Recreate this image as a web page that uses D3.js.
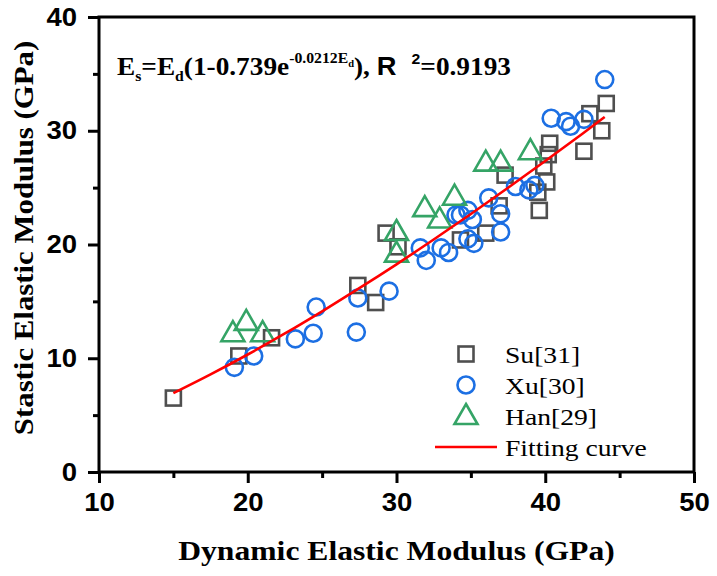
<!DOCTYPE html>
<html><head><meta charset="utf-8">
<script src="https://cdn.jsdelivr.net/npm/d3@7"></script>
<style>body{margin:0;background:#fff;} svg{display:block;}</style>
</head><body>
<svg id="chart" width="717" height="576"></svg>
<script>
const suX = [15.0,19.4,21.6,27.4,28.6,29.3,30.1,34.3,36.0,36.9,37.3,39.6,39.5,39.9,40.1,40.2,40.3,42.6,43.0,43.8,44.1];
const suY = [6.5,10.2,11.8,16.4,14.9,21.0,19.8,20.4,21.0,23.4,26.1,23.0,24.6,26.9,25.5,27.9,28.9,28.2,31.5,30.0,32.4];
const xuX = [19.1,20.4,23.2,24.4,24.6,27.3,27.4,29.5,31.6,32.0,33.0,33.5,34.0,34.3,34.8,35.1,34.8,35.2,36.2,37.0,37.0,38.0,38.9,39.3,40.4,41.4,41.7,42.6,44.0];
const xuY = [9.2,10.2,11.7,12.2,14.5,12.3,15.3,15.9,19.7,18.6,19.7,19.3,22.6,22.6,23.0,22.2,20.5,20.1,24.1,22.7,21.1,25.1,24.8,25.2,31.1,30.8,30.4,31.0,34.5];
const hanX = [19.0,19.9,21.0,30.0,30.0,31.9,32.9,33.9,36.0,37.0,39.0];
const hanY = [12.2,13.2,12.2,21.1,19.2,23.2,22.2,24.2,27.2,27.2,28.2];
const fitX = [15,17.5,20,22.5,25,27.5,30,32.5,35,37.5,40,42.5,44];
const fitY = [6.93,8.58,10.33,12.18,14.13,16.16,18.26,20.44,22.68,24.99,27.34,29.74,31.21];
const xTicks = [10,20,30,40,50];
const yTicks = [0,10,20,30,40];
const legendLabels = ["Su[31]","Xu[30]","Han[29]","Fitting curve"];

const svg = d3.select("#chart");
const m = {l:99, t:17, r:23, b:104};
const W = 717, H = 576;
const x = d3.scaleLinear().domain([10,50]).range([m.l, W-m.r]);
const y = d3.scaleLinear().domain([0,40]).range([H-m.b, m.t]);

const tickFont = "'Liberation Sans', Arial, sans-serif";
const serif = "'Liberation Serif', 'Times New Roman', serif";
const K = 1.13;

function stretchAt(sel, k){
  sel.each(function(){
    const e = d3.select(this);
    const ax = +(e.attr("x")||0), ay = +(e.attr("y")||0);
    e.attr("transform",`translate(${ax},${ay}) scale(${k},1) translate(${-ax},${-ay})`);
  });
}

const xMinor = d3.range(15,50,10);
const yMinor = d3.range(5,40,10);

const gx = svg.append("g").attr("transform",`translate(0,${H-m.b})`)
  .call(d3.axisBottom(x).tickValues(xTicks).tickSize(11).tickPadding(10).tickFormat(d3.format("d")));
const gxm = svg.append("g").attr("transform",`translate(0,${H-m.b})`)
  .call(d3.axisBottom(x).tickValues(xMinor).tickSize(6).tickFormat(""));
const gy = svg.append("g").attr("transform",`translate(${m.l},0)`)
  .call(d3.axisLeft(y).tickValues(yTicks).tickSize(11).tickPadding(11).tickFormat(d3.format("d")));
const gym = svg.append("g").attr("transform",`translate(${m.l},0)`)
  .call(d3.axisLeft(y).tickValues(yMinor).tickSize(6).tickFormat(""));
[gx,gxm,gy,gym].forEach(g=>{
  g.select(".domain").remove();
  g.selectAll(".tick line").attr("stroke","#000").attr("stroke-width",3);
  g.selectAll(".tick text").attr("fill","#000").style("font-family",tickFont).style("font-weight","bold").style("font-size","25px");
});
stretchAt(gx.selectAll(".tick text"), 1.1);
stretchAt(gy.selectAll(".tick text"), 1.1);

svg.append("rect").attr("x",m.l).attr("y",m.t).attr("width",W-m.r-m.l).attr("height",H-m.b-m.t)
  .attr("fill","none").attr("stroke","#000").attr("stroke-width",3);

const plot = svg.append("g");
const sqColor = "#4f4f4f", ciColor = "#1c6fe3", trColor = "#35a466";
const sqSize = 15, cr = 8.5;
const triPath = (cx,cy)=>{ const w=11.5, h=20; return `M${cx},${cy-h*0.6}L${cx+w},${cy+h*0.4}L${cx-w},${cy+h*0.4}Z`; };

plot.selectAll(".su").data(suX.map((d,i)=>[d,suY[i]])).join("rect")
  .attr("x",d=>x(d[0])-sqSize/2).attr("y",d=>y(d[1])-sqSize/2).attr("width",sqSize).attr("height",sqSize)
  .attr("fill","none").attr("stroke",sqColor).attr("stroke-width",2.6);
plot.selectAll(".xu").data(xuX.map((d,i)=>[d,xuY[i]])).join("circle")
  .attr("cx",d=>x(d[0])).attr("cy",d=>y(d[1])).attr("r",cr)
  .attr("fill","none").attr("stroke",ciColor).attr("stroke-width",2.6);
plot.selectAll(".han").data(hanX.map((d,i)=>[d,hanY[i]])).join("path")
  .attr("d",d=>triPath(x(d[0]),y(d[1])))
  .attr("fill","none").attr("stroke",trColor).attr("stroke-width",2.6);
plot.append("path").datum(fitX.map((d,i)=>[d,fitY[i]]))
  .attr("d",d3.line().x(d=>x(d[0])).y(d=>y(d[1])).curve(d3.curveMonotoneX))
  .attr("fill","none").attr("stroke","#ff0000").attr("stroke-width",2.6);

// legend
const lx = 466, ly0 = 354, ldy = 31;
const lg = svg.append("g");
lg.append("rect").attr("x",lx-sqSize/2).attr("y",ly0-sqSize/2).attr("width",sqSize).attr("height",sqSize)
  .attr("fill","none").attr("stroke",sqColor).attr("stroke-width",2.6);
lg.append("circle").attr("cx",lx).attr("cy",ly0+ldy).attr("r",cr).attr("fill","none").attr("stroke",ciColor).attr("stroke-width",2.6);
lg.append("path").attr("d",triPath(lx,ly0+2*ldy)).attr("fill","none").attr("stroke",trColor).attr("stroke-width",2.6);
lg.append("line").attr("x1",435).attr("x2",497).attr("y1",ly0+3*ldy).attr("y2",ly0+3*ldy).attr("stroke","#ff0000").attr("stroke-width",2.6);
const lt = lg.selectAll("text.lt").data(legendLabels).join("text").attr("class","lt")
  .attr("x",505).attr("y",(d,i)=>ly0+i*ldy+9).text(d=>d)
  .style("font-family",serif).style("font-size","24px").attr("fill","#000");
stretchAt(lt, 1.15);

// equation
const eq = svg.append("text").attr("x",117).attr("y",75)
  .style("font-family",serif).style("font-weight","bold").style("font-size","26px").attr("fill","#000");
eq.append("tspan").text("E");
eq.append("tspan").attr("dy",6).style("font-size","15px").text("s");
eq.append("tspan").attr("dy",-6).text("=E");
eq.append("tspan").attr("dy",6).style("font-size","15px").text("d");
eq.append("tspan").attr("dy",-6).text("(1-0.739e");
eq.append("tspan").attr("dy",-12).style("font-size","15px").text("-0.0212E");
eq.append("tspan").attr("dy",4).style("font-size","10px").text("d");
eq.append("tspan").attr("dy",8).text("),\u00a0");
eq.append("tspan").style("font-family",tickFont).text("R\u00a0\u00a0");
eq.append("tspan").attr("dy",-11).style("font-family",tickFont).style("font-size","15px").text("2");
eq.append("tspan").attr("dy",11).text("=0.9193");
stretchAt(eq, 1.05);

// axis titles
const xt = svg.append("text").attr("x",(m.l+W-m.r)/2).attr("y",560).attr("text-anchor","middle")
  .style("font-family",serif).style("font-weight","bold").style("font-size","28px").text("Dynamic Elastic Modulus (GPa)");
stretchAt(xt, K);
svg.append("text").attr("transform",`translate(33,238) rotate(-90) scale(1.12,1)`).attr("text-anchor","middle")
  .style("font-family",serif).style("font-weight","bold").style("font-size","27.5px").text("Stastic Elastic Modulus (GPa)");
</script>
</body></html>
